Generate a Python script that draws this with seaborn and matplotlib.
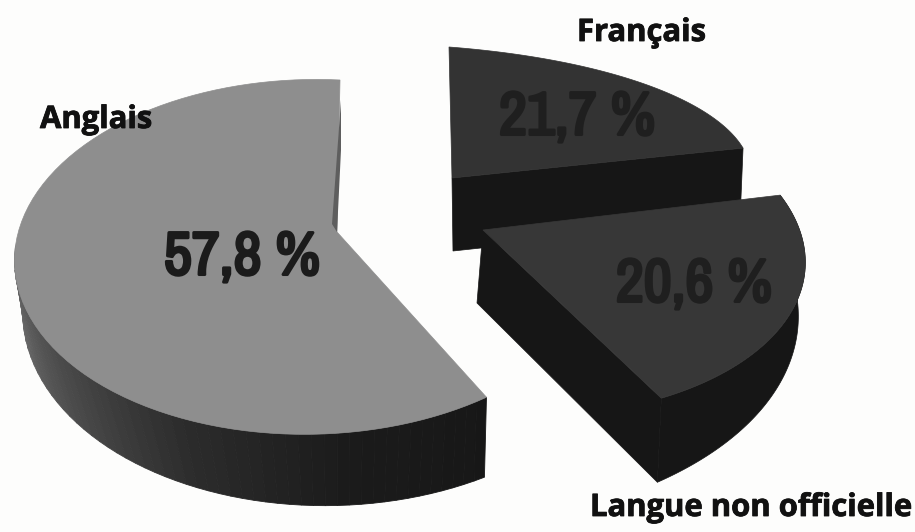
import numpy as np
import seaborn as sns
import matplotlib
matplotlib.use("Agg")
import matplotlib.pyplot as plt
import matplotlib.font_manager as fm
import matplotlib.patheffects as pe
from matplotlib.patches import Polygon

# shares in counter-clockwise order from 12 o'clock
languages = ["Anglais", "Langue non officielle", "Français"]
shares = [57.8, 20.6, 21.7]
share_labels = ["57,8 %", "20,6 %", "21,7 %"]

top_colors = ["#8e8e8e", "#373737", "#333333"]
pct_colors = ["#1b1b1b", "#1f1f1f", "#1f1f1f"]
wall_dark = "#161616"

# (angle in degrees or None for the ellipse centre) -> pixel position, one list per slice
top_anchors = [
    [(None, (345, 244)), (90, (340, 80)), (180, (15, 250)), (298, (487, 397))],
    [(None, (483, 230)), (372, (780, 195)), (336, (795, 305)), (298, (662, 398))],
    [(None, (452, 178)), (90, (449, 47)), (51, (650, 86)), (12, (743, 148))],
]
bottom_anchors = [
    [(None, (337, 318)), (180, (24, 330)), (270, (350, 505)), (298, (485, 477))],
    [(None, (477, 303)), (372, (790, 270)), (336, (780, 383)), (298, (658, 482))],
    [(None, (453, 251)), (90, (449, 120)), (51, (650, 160)), (12, (740, 220))],
]
apex_top_pos = [(337, 232), (483, 230), (452, 178)]
apex_bot_pos = [(337, 318), (477, 303), (453, 251)]

label_pos = [(40, 128), (590, 516), (577, 41)]
pct_pos = [(242, 258), (694, 285), (577, 118)]

# the percentages are set in a condensed face, take whichever is installed
names = sorted({f.name for f in fm.fontManager.ttflist})
narrow = [n for n in names if "Narrow" in n or "Condensed" in n]
pct_family = narrow[0] if narrow else "Liberation Sans"


def unit(angle):
    if angle is None:
        return (0.0, 0.0)
    return (np.cos(np.radians(angle)), np.sin(np.radians(angle)))


def fit_homography(anchors):
    rows, rhs = [], []
    for angle, (px, py) in anchors:
        ux, uy = unit(angle)
        rows.append([ux, uy, 1, 0, 0, 0, -ux * px, -uy * px])
        rows.append([0, 0, 0, ux, uy, 1, -ux * py, -uy * py])
        rhs += [px, py]
    h = np.linalg.solve(np.array(rows, dtype=float), np.array(rhs, dtype=float))
    return np.append(h, 1).reshape(3, 3)


def project(h, pts):
    pts = np.column_stack([pts, np.ones(len(pts))]) @ h.T
    return pts[:, :2] / pts[:, 2:]


sns.set_theme(style="white")

fig = plt.figure(figsize=(9.15, 5.32), dpi=100, facecolor="#fdfdfc")
ax = fig.add_axes([0, 0, 1, 1])
wedges, _ = ax.pie(shares, startangle=90, counterclock=True)
ax.set_aspect("auto")
ax.set_xlim(0, 915)
ax.set_ylim(532, 0)
ax.axis("off")

# Français sits behind Langue, Anglais is apart from both
for i in [2, 1, 0]:
    w = wedges[i]
    w.set_visible(False)
    t1, t2 = w.theta1, w.theta2
    if i == 2:
        t1, t2 = t1 - 360, t2 - 360
    thetas = np.radians(np.linspace(t1, t2, 90))
    arc = np.column_stack([np.cos(thetas), np.sin(thetas)])
    top_arc = project(fit_homography(top_anchors[i]), arc)
    bot_arc = project(fit_homography(bottom_anchors[i]), arc)
    apex_top = np.array([apex_top_pos[i]], dtype=float)
    apex_bot = np.array([apex_bot_pos[i]], dtype=float)

    if i == 0:
        # outer wall gets lighter towards the left
        visible = np.where(np.degrees(thetas) >= 178)[0]
        ramp = sns.blend_palette(["#6e6e6e", "#4c4c4c", "#2c2c2c", "#1b1b1b", "#171717"], len(visible))
        for col, k in zip(ramp, visible[:-1]):
            quad = np.vstack([top_arc[k:k + 2], bot_arc[k:k + 2][::-1]])
            ax.add_patch(Polygon(quad, closed=True, fc=col, ec=col, lw=0.6))
    elif i == 1:
        ax.add_patch(Polygon(np.vstack([top_arc, bot_arc[::-1]]), closed=True, fc=wall_dark, ec=wall_dark, lw=0.5))
        # radial face towards the reader
        face = np.vstack([apex_top, top_arc[:1], bot_arc[:1], apex_bot])
        ax.add_patch(Polygon(face, closed=True, fc=wall_dark, ec=wall_dark, lw=0.5))
    else:
        face = np.vstack([apex_top, top_arc[:1], bot_arc[:1], apex_bot])
        ax.add_patch(Polygon(face, closed=True, fc=wall_dark, ec=wall_dark, lw=0.5))

    ax.add_patch(Polygon(np.vstack([apex_top, top_arc]), closed=True, fc=top_colors[i], ec=top_colors[i], lw=0.5))

    if i == 0:
        # thin inner face seen along the start edge
        sliver = np.array([top_arc[0] + [1, 20], top_arc[0] + [1, 70], apex_top[0], apex_top[0] + [-5, -8]])
        ax.add_patch(Polygon(sliver, closed=True, fc="#5e5e5e", ec="none"))

for name, (x, y) in zip(languages, label_pos):
    ax.text(x, y, name, family=["Open Sans"], fontweight="bold", fontsize=22.3, color="#111111",
            ha="left", va="baseline", path_effects=[pe.withStroke(linewidth=0.6, foreground="#111111")])

for pct, (x, y), col in zip(share_labels, pct_pos, pct_colors):
    ax.text(x, y, pct, family=[pct_family], fontweight="bold", fontsize=44 if narrow else 35,
            color=col, ha="center", va="center", path_effects=[pe.withStroke(linewidth=2.2, foreground=col)])

fig.savefig("out.png", dpi=100, facecolor=fig.get_facecolor())
